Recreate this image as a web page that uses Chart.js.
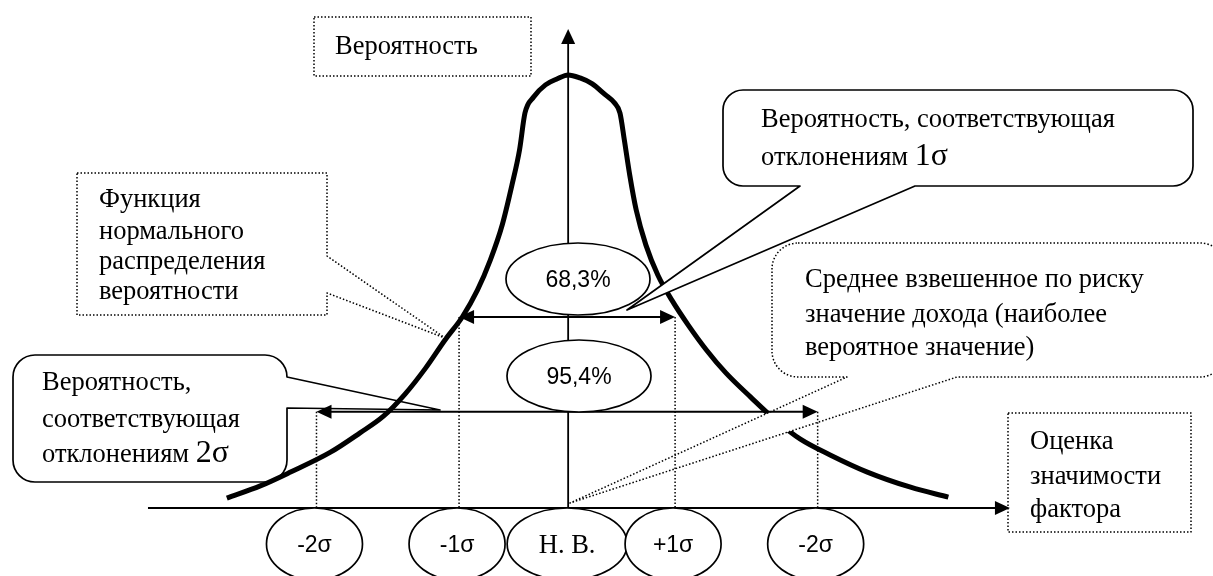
<!DOCTYPE html>
<html>
<head>
<meta charset="utf-8">
<style>
html,body{margin:0;padding:0;background:#fff;}
#wrap{width:1213px;height:576px;position:relative;}
canvas{display:block;}
</style>
<script src="https://cdn.jsdelivr.net/npm/chart.js@4.4.1/dist/chart.umd.min.js"></script>
</head>
<body>
<div id="wrap"><canvas id="c" width="1213" height="576"></canvas></div>
<script>
// ---- data (x in sigma-like units, y = relative probability) ----
const curveX = [-3.16,-2.85,-2.57,-2.20,-1.93,-1.71,-1.51,-1.32,-1.14,-0.98,-0.84,-0.72,-0.61,-0.52,-0.45,-0.40,-0.32,-0.21,-0.10,0,0.11,0.22,0.34,0.43,0.48,0.52,0.57,0.63,0.72,0.83,0.96,1.11,1.28,1.46,1.69,1.92,2.15,2.43,2.77,3.17,3.52];
const curveY = [0.023,0.051,0.083,0.129,0.173,0.212,0.263,0.323,0.388,0.441,0.503,0.573,0.654,0.746,0.827,0.912,0.949,0.977,0.991,1.0,0.993,0.980,0.955,0.935,0.912,0.850,0.769,0.688,0.607,0.538,0.480,0.423,0.365,0.312,0.256,0.203,0.159,0.122,0.083,0.048,0.025];

const sigmaX = [-2.33, -1.01, 0, 0.99, 2.31];
const sigmaLabels = ['-2σ', '-1σ', 'Н. В.', '+1σ', '-2σ'];

const bandLabels = ['68,3%', '95,4%'];
const bandY = [0.441, 0.222];
const bandFrom = [1, 0];
const bandTo = [3, 4];

const xAxisRange = [-3.89, 4.09];
const yAxisTop = 1.106;

const yAxisTitle = ['Вероятность'];
const xAxisTitle = ['Оценка', 'значимости', 'фактора'];
const noteCurve = ['Функция', 'нормального', 'распределения', 'вероятности'];
const note1Sigma = ['Вероятность, соответствующая', 'отклонениям 1σ'];
const note2Sigma = ['Вероятность,', 'соответствующая', 'отклонениям 2σ'];
const noteMean = ['Среднее взвешенное по риску', 'значение дохода (наиболее', 'вероятное значение)'];

// ---- drawing helpers ----
const SERIF = '"Liberation Serif", "Times New Roman", serif';
const SANS = '"Liberation Sans", Arial, sans-serif';
const TXT = 26.5;

function calloutPath(ctx, o) {
  const l = o.l, t = o.t, r = o.r, b = o.b, rad = o.radius || 0, w = o.wedge;
  ctx.beginPath();
  ctx.moveTo(l + rad, t);
  ctx.lineTo(r - rad, t);
  if (rad) ctx.arcTo(r, t, r, t + rad, rad);
  if (w && w.side === 'right') { ctx.lineTo(r, w.a); ctx.lineTo(w.tip[0], w.tip[1]); ctx.lineTo(r, w.b); }
  ctx.lineTo(r, b - rad);
  if (rad) ctx.arcTo(r, b, r - rad, b, rad);
  if (w && w.side === 'bottom') { ctx.lineTo(w.b, b); ctx.lineTo(w.tip[0], w.tip[1]); ctx.lineTo(w.a, b); }
  ctx.lineTo(l + rad, b);
  if (rad) ctx.arcTo(l, b, l, b - rad, rad);
  ctx.lineTo(l, t + rad);
  if (rad) ctx.arcTo(l, t, l + rad, t, rad);
  ctx.closePath();
}
function drawCallout(ctx, o) {
  ctx.save();
  calloutPath(ctx, o);
  ctx.fillStyle = '#fff';
  ctx.fill();
  ctx.strokeStyle = '#000';
  ctx.lineWidth = o.dotted ? 1.5 : 1.7;
  ctx.lineJoin = 'round';
  if (o.dotted) ctx.setLineDash([1.5, 2]);
  ctx.stroke();
  ctx.restore();
}
function drawLines(ctx, lines, x, ys, size) {
  ctx.save();
  ctx.fillStyle = '#000';
  ctx.textBaseline = 'middle';
  ctx.textAlign = 'left';
  lines.forEach((s, i) => {
    const m = s.match(/^(.*?)(\d+σ)$/);
    if (m) {
      ctx.font = size + 'px ' + SERIF;
      ctx.fillText(m[1], x, ys[i]);
      const w = ctx.measureText(m[1]).width;
      ctx.font = Math.round(size * 1.2) + 'px ' + SERIF;
      ctx.fillText(m[2], x + w, ys[i] - 1);
    } else {
      ctx.font = size + 'px ' + SERIF;
      ctx.fillText(s, x, ys[i]);
    }
  });
  ctx.restore();
}
function arrowHead(ctx, x, y, dx, dy, len, half) {
  const bx = x - dx * len, by = y - dy * len;
  ctx.beginPath();
  ctx.moveTo(x, y);
  ctx.lineTo(bx - dy * half, by + dx * half);
  ctx.lineTo(bx + dy * half, by - dx * half);
  ctx.closePath();
  ctx.fill();
}
function line(ctx, x1, y1, x2, y2) {
  ctx.beginPath(); ctx.moveTo(x1, y1); ctx.lineTo(x2, y2); ctx.stroke();
}
function ellipse(ctx, cx, cy, rx, ry, label, font) {
  ctx.save();
  ctx.beginPath();
  ctx.ellipse(cx, cy, rx, ry, 0, 0, Math.PI * 2);
  ctx.fillStyle = '#fff';
  ctx.fill();
  ctx.lineWidth = 1.7;
  ctx.strokeStyle = '#000';
  ctx.stroke();
  ctx.fillStyle = '#000';
  ctx.font = font;
  ctx.textAlign = 'center';
  ctx.textBaseline = 'middle';
  ctx.fillText(label, cx, cy + 2);
  ctx.restore();
}

const diagram = {
  id: 'diagram',
  beforeDatasetsDraw(chart) {
    const ctx = chart.ctx;
    // 2-sigma bubble (the curve passes over it)
    drawCallout(ctx, {l: 13, t: 355, r: 287, b: 482, radius: 22,
      wedge: {side: 'right', a: 377, b: 408, tip: [440, 410]}});
    // plain dotted boxes
    drawCallout(ctx, {l: 314, t: 17, r: 531, b: 76, dotted: true});
    drawCallout(ctx, {l: 1008, t: 413, r: 1191, b: 532, dotted: true});
  },
  afterDatasetsDraw(chart) {
    const ctx = chart.ctx;
    const X = v => chart.scales.x.getPixelForValue(v);
    const Y = v => chart.scales.y.getPixelForValue(v);

    // callouts drawn over the curve
    drawCallout(ctx, {l: 77, t: 173, r: 327, b: 315, dotted: true,
      wedge: {side: 'right', a: 256, b: 293, tip: [445, 338]}});
    drawCallout(ctx, {l: 772, t: 243, r: 1226, b: 377, radius: 26, dotted: true,
      wedge: {side: 'bottom', a: 847, b: 957, tip: [570, 503]}});
    drawCallout(ctx, {l: 723, t: 90, r: 1193, b: 186, radius: 20,
      wedge: {side: 'bottom', a: 800, b: 915, tip: [627, 310]}});

    ctx.save();
    ctx.strokeStyle = '#000';
    ctx.fillStyle = '#000';
    // axes
    const y0 = Y(0), x0 = X(0);
    ctx.lineWidth = 1.8;
    line(ctx, X(xAxisRange[0]), y0, X(xAxisRange[1]) - 12, y0);
    arrowHead(ctx, X(xAxisRange[1]), y0, 1, 0, 15, 7);
    line(ctx, x0, y0, x0, Y(yAxisTop) + 12);
    arrowHead(ctx, x0, Y(yAxisTop), 0, -1, 15, 7);

    // dotted verticals at sigma marks
    ctx.save();
    ctx.lineWidth = 1.5;
    ctx.setLineDash([1.5, 2]);
    bandY.forEach((h, k) => {
      [bandFrom[k], bandTo[k]].forEach(i => line(ctx, X(sigmaX[i]), Y(h), X(sigmaX[i]), y0));
    });
    ctx.restore();

    // double arrows for the bands
    ctx.lineWidth = 2;
    bandY.forEach((h, k) => {
      const a = X(sigmaX[bandFrom[k]]), b = X(sigmaX[bandTo[k]]), yy = Y(h);
      line(ctx, a + 10, yy, b - 10, yy);
      arrowHead(ctx, a, yy, -1, 0, 15, 7);
      arrowHead(ctx, b, yy, 1, 0, 15, 7);
    });
    ctx.restore();

    // band ellipses
    ellipse(ctx, 578, 279, 72, 36, bandLabels[0], '23px ' + SANS);
    ellipse(ctx, 579, 376, 72, 36, bandLabels[1], '23px ' + SANS);

    // sigma labels under the axis
    sigmaX.forEach((s, i) => {
      const isMean = i === 2;
      ellipse(ctx, X(s) - (isMean ? 1 : 2), 544, isMean ? 60 : 48, 36, sigmaLabels[i],
        isMean ? TXT + 'px ' + SERIF : '23px ' + SANS);
    });

    // texts
    drawLines(ctx, yAxisTitle, 335, [47], TXT);
    drawLines(ctx, noteCurve, 99, [200, 232, 262, 292], TXT);
    drawLines(ctx, note1Sigma, 761, [120, 158], TXT);
    drawLines(ctx, noteMean, 805, [280, 315, 348], TXT);
    drawLines(ctx, note2Sigma, 42, [383, 420, 455], TXT);
    drawLines(ctx, xAxisTitle, 1030, [442, 477, 510], TXT);
  }
};

new Chart(document.getElementById('c'), {
  type: 'scatter',
  data: {
    datasets: [{
      data: curveX.map((x, i) => ({x: x, y: curveY[i]})),
      showLine: true,
      borderColor: '#000',
      borderWidth: 5,
      pointRadius: 0,
      cubicInterpolationMode: 'monotone',
      fill: false
    }]
  },
  options: {
    responsive: false,
    animation: false,
    events: [],
    layout: {padding: 0},
    plugins: {legend: {display: false}, tooltip: {enabled: false}},
    scales: {
      x: {type: 'linear', min: -5.26, max: 5.97, display: false},
      y: {type: 'linear', min: -0.157, max: 1.173, display: false}
    }
  },
  plugins: [diagram]
});
</script>
</body>
</html>
